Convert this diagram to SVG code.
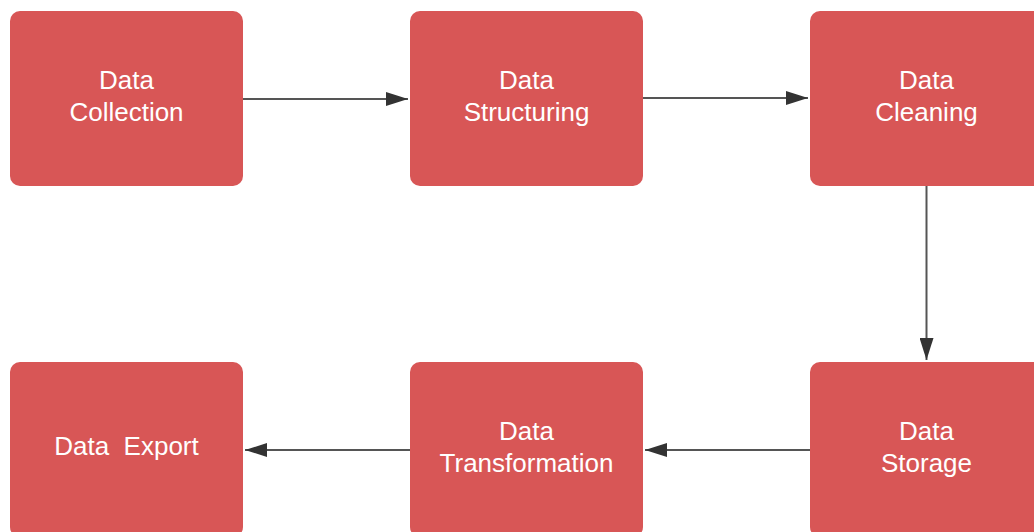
<svg xmlns="http://www.w3.org/2000/svg" width="1034" height="532" viewBox="0 0 1034 532">
  <style>
    .box { fill: #d85656; }
    .label { fill: #ffffff; font-family: "Liberation Sans", Arial, sans-serif; font-size: 26px; text-anchor: middle; white-space: pre; }
    .link { stroke: #555555; stroke-width: 2; fill: none; }
  </style>
  <defs>
    <marker id="arrow" viewBox="0 0 22 14" refX="22" refY="7" markerWidth="22" markerHeight="14" markerUnits="userSpaceOnUse" orient="auto">
      <path d="M0,0 L22,7 L0,14 Z" fill="#333333"/>
    </marker>
  </defs>
  <rect width="1034" height="532" fill="#ffffff"/>

  <g id="data-collection">
    <rect class="box" x="10" y="11" width="233" height="175" rx="10"/>
    <text class="label" x="126.5" y="89">Data</text>
    <text class="label" x="126.5" y="121">Collection</text>
  </g>
  <g id="data-structuring">
    <rect class="box" x="410" y="11" width="233" height="175" rx="10"/>
    <text class="label" x="526.5" y="89">Data</text>
    <text class="label" x="526.5" y="121">Structuring</text>
  </g>
  <g id="data-cleaning">
    <rect class="box" x="810" y="11" width="233" height="175" rx="10"/>
    <text class="label" x="926.5" y="89">Data</text>
    <text class="label" x="926.5" y="121">Cleaning</text>
  </g>
  <g id="data-storage">
    <rect class="box" x="810" y="362" width="233" height="175" rx="10"/>
    <text class="label" x="926.5" y="440">Data</text>
    <text class="label" x="926.5" y="472">Storage</text>
  </g>
  <g id="data-transformation">
    <rect class="box" x="410" y="362" width="233" height="175" rx="10"/>
    <text class="label" x="526.5" y="440">Data</text>
    <text class="label" x="526.5" y="472">Transformation</text>
  </g>
  <g id="data-export">
    <rect class="box" x="10" y="362" width="233" height="175" rx="10"/>
    <text class="label" x="126.5" y="455">Data  Export</text>
  </g>

  <g id="connectors">
    <line class="link" x1="243" y1="99" x2="408" y2="99" marker-end="url(#arrow)"/>
    <line class="link" x1="643" y1="98" x2="808" y2="98" marker-end="url(#arrow)"/>
    <line class="link" x1="926.5" y1="186" x2="926.5" y2="360" marker-end="url(#arrow)"/>
    <line class="link" x1="810" y1="450" x2="645" y2="450" marker-end="url(#arrow)"/>
    <line class="link" x1="410" y1="450" x2="245" y2="450" marker-end="url(#arrow)"/>
  </g>
</svg>
